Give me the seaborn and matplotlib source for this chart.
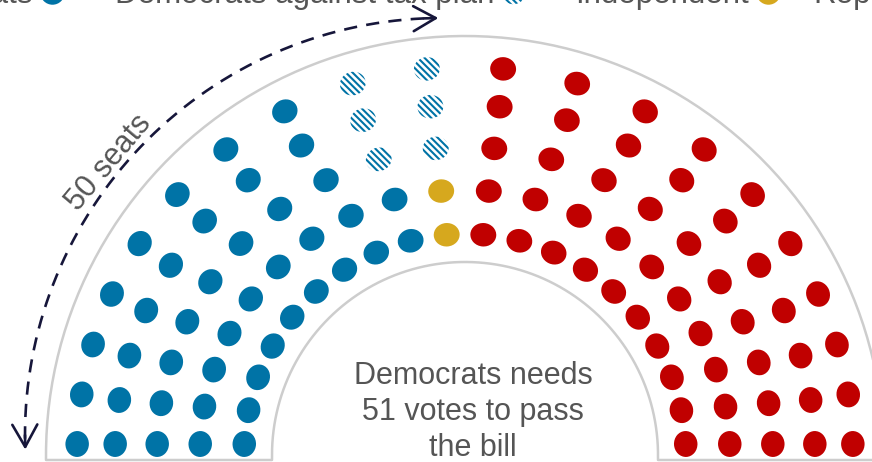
import numpy as np
import pandas as pd
import matplotlib.pyplot as plt
from matplotlib.path import Path
from matplotlib.transforms import Affine2D
import seaborn as sns

# seats per party (US Senate)
parties = ["Democrats", "Democrats against tax plan", "Independent", "Republicans"]
codes = ["D", "A", "I", "R"]
seats = [42, 6, 2, 50]
colors = ["#0073A6", "#0073A6", "#D6A81E", "#C00000"]

# party of every seat in each column of the hemicycle, inner row first, left to right
columns = ["DDDDD"] * 8 + ["DDAAA", "IIAAA"] + ["RRRRR"] * 10

note = "Democrats needs\n51 votes to pass\nthe bill"
arc_label = "50 seats"

# layout (pixels)
row_radius = [221, 265, 308, 350, 388]
row_warp = [1.0, 3.3, 5.0, 6.3, 6.0]  # degrees the seats lean towards the floor
floor = 11
outer_r, inner_r = 419, 193
text_color = "#555555"
navy = "#16163A"

for code, n in zip(codes, seats):
    assert sum(c.count(code) for c in columns) == n

recs = []
for ci, col in enumerate(columns):
    u = ci / (len(columns) - 1)
    for ri, code in enumerate(col):
        r = row_radius[ri]
        t0 = np.arcsin(floor / r)
        a = t0 + (np.pi - 2 * t0) * u - np.radians(row_warp[ri]) * np.sin(2 * np.pi * u)
        ang = np.pi - a
        recs.append({"x": r * np.cos(ang), "y": r * np.sin(ang), "ang": ang, "party": code})
df = pd.DataFrame(recs)

sns.set_theme(style="white")
plt.rcParams["font.family"] = ["Liberation Sans", "DejaVu Sans"]
plt.rcParams["hatch.color"] = colors[1]
plt.rcParams["hatch.linewidth"] = 1.5

fig = plt.figure(figsize=(8.72, 4.62), dpi=100)
ax = fig.add_axes([0, 0, 1, 1])
ax.set_xlim(-465, 872 - 465)
ax.set_ylim(455 - 462, 455)
ax.axis("off")


def seat_path(ang):
    # slightly oval seat, long side along the arc
    return Path.unit_circle().transformed(Affine2D().scale(0.48, 0.53).rotate(ang))


size = 310
hatch = "\\" * 5
solid = df[df.party != "A"].reset_index(drop=True)
sns.scatterplot(data=solid, x="x", y="y", hue="party",
                palette={c: col for c, col in zip(codes, colors)},
                s=size, linewidth=0, legend=False, ax=ax)
ax.collections[-1].set_paths([seat_path(a) for a in solid.ang])

hatched = df[df.party == "A"].reset_index(drop=True)
sns.scatterplot(data=hatched, x="x", y="y", color="white", edgecolor=colors[1],
                s=size, linewidth=0, hatch=hatch, legend=False, ax=ax)
ax.collections[-1].set_paths([seat_path(a) for a in hatched.ang])

# chamber outline
t = np.linspace(0, np.pi, 200)
ox = np.concatenate([[outer_r, outer_r], outer_r * np.cos(t), [-outer_r, -outer_r, -inner_r, -inner_r],
                     inner_r * np.cos(t[::-1]), [inner_r, inner_r, outer_r]])
oy = np.concatenate([[-5, 0], outer_r * np.sin(t), [0, -5, -5, 0],
                     inner_r * np.sin(t[::-1]), [0, -5, -5]])
ax.plot(ox, oy, color="#CDCDCD", lw=1.8, zorder=1, solid_joinstyle="round")

# dashed "50 seats" arc with arrows at both ends
acx, acy, ar = -23, 20, 417
ta = np.radians(np.linspace(92.5, 180.5, 200))
ax.plot(acx + ar * np.cos(ta), acy + ar * np.sin(ta), color=navy, lw=1.9,
        dashes=(5, 3.5), zorder=1)
for a_tip, a_from in [(90.5, 92.5), (182, 180)]:
    tip = (acx + ar * np.cos(np.radians(a_tip)), acy + ar * np.sin(np.radians(a_tip)))
    frm = (acx + ar * np.cos(np.radians(a_from)), acy + ar * np.sin(np.radians(a_from)))
    ax.annotate("", xy=tip, xytext=frm,
                arrowprops=dict(arrowstyle="->,head_length=0.8,head_width=0.45", color=navy,
                                lw=1.9, mutation_scale=20, shrinkA=0, shrinkB=0))

la = np.radians(140)
ax.text(465 * np.cos(la), 455 * np.sin(la), arc_label, rotation=50, rotation_mode="anchor",
        ha="center", va="center", fontsize=22, color=text_color)

ax.text(8, 43, note, ha="center", va="center", multialignment="center", fontsize=22,
        color=text_color, linespacing=1.27)

# legend, cut by the top edge
renderer = fig.canvas.get_renderer()
label_x = [33 - 465, 115 - 465, 575 - 465, 813 - 465]
for i, (name, col) in enumerate(zip(parties, colors)):
    txt = ax.text(label_x[i], 452, name, ha="right" if i == 0 else "left", va="baseline",
                  fontsize=22.5, color=text_color)
    bb = txt.get_window_extent(renderer).transformed(ax.transData.inverted())
    mx = bb.x1 + 19
    if codes[i] == "A":
        ax.scatter([mx], [463], s=size, color="white", edgecolor=col, linewidth=0,
                   hatch=hatch, clip_on=False)
    else:
        ax.scatter([mx], [463], s=size, color=col, linewidth=0, clip_on=False)

fig.savefig("out.png", dpi=100)
